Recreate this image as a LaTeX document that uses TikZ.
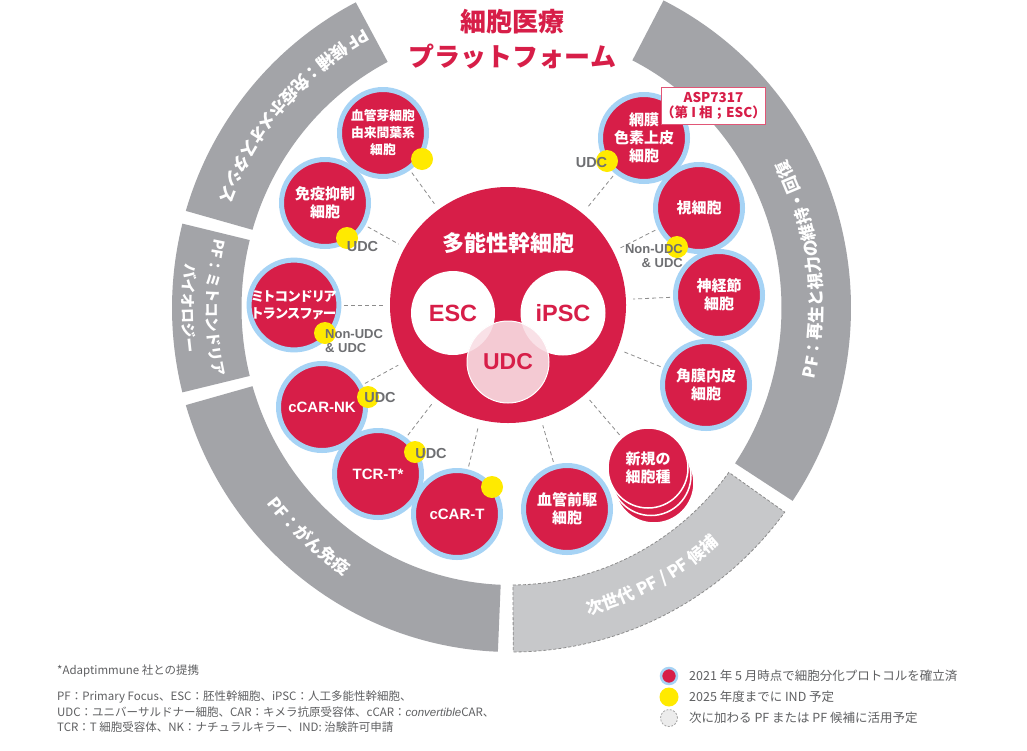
\documentclass[tikz,border=0pt]{standalone}
\usepackage{fontspec}
\setmainfont{Noto Sans CJK JP}
\newfontfamily\jpp{Noto Sans CJK JP}[RawFeature=+palt]
\newfontfamily\lat{Liberation Sans}
\usetikzlibrary{decorations.text}
\definecolor{cred}{HTML}{D71E48}
\definecolor{cblue}{HTML}{A6D3F5}
\definecolor{cyel}{HTML}{FFEA00}
\definecolor{rgray}{HTML}{A3A4A8}
\definecolor{lgray}{HTML}{C7C8CA}
\definecolor{dgray}{HTML}{6E6F72}
\definecolor{pinka}{HTML}{F4CAD3}
\definecolor{pinkb}{HTML}{F9E1E7}
\definecolor{txtgray}{HTML}{5F6062}
\definecolor{conngray}{HTML}{8C8C8C}
\newcommand\ringf{\bfseries\fontsize{17}{17}\selectfont}
\newcommand\ringg{\bfseries\fontsize{15}{15}\selectfont}
\tikzset{
  sat/.style={circle, fill=cred, draw=cblue, line width=5pt, minimum size=87pt, inner sep=0pt,
    text=white, align=center, font=\bfseries\fontsize{15}{18}\selectfont},
  latsat/.style={sat, font=\lat\bfseries\fontsize{15}{15}\selectfont},
  ydot/.style={circle, fill=cyel, minimum size=22pt, inner sep=0pt},
  conn/.style={draw=conngray, dash pattern=on 4pt off 3pt, line width=0.8pt, shorten <=3pt, shorten >=7pt},
  udclab/.style={text=dgray, font=\lat\bfseries\fontsize{14.5}{14.5}\selectfont, inner sep=0pt},
  nudclab/.style={text=dgray, font=\lat\bfseries\fontsize{13}{14}\selectfont, inner sep=0pt},
  legtext/.style={anchor=west, text=txtgray, inner sep=0pt},
  ringtext/.style={decorate, decoration={text along path, text align=center, text color=white, text={#1}}},
}
\begin{document}
\begin{tikzpicture}[x=1pt,y=1pt]
\fill[white] (0,0) rectangle (1027,-750);
\useasboundingbox (0,0) rectangle (1027,-750);

% ---------------- ring ----------------
\begin{scope}[shift={(511.5,-308)}]
  \fill[rgray] (117.3:270pt and 277pt) arc[start angle=117.3,end angle=163.6,x radius=270pt,y radius=277pt]
     -- (163.6:339.5pt and 344pt) arc[start angle=163.6,end angle=117.3,x radius=339.5pt,y radius=344pt] -- cycle;
  \fill[rgray] (165.8:270pt and 277pt) arc[start angle=165.8,end angle=194.2,x radius=270pt,y radius=277pt]
     -- (194.2:339.5pt and 344pt) arc[start angle=194.2,end angle=165.8,x radius=339.5pt,y radius=344pt] -- cycle;
  \fill[rgray] (196.4:270pt and 277pt) arc[start angle=196.4,end angle=267.7,x radius=270pt,y radius=277pt]
     -- (267.7:339.5pt and 344pt) arc[start angle=267.7,end angle=196.4,x radius=339.5pt,y radius=344pt] -- cycle;
  \path[fill=lgray, draw=conngray, line width=0.8pt, dash pattern=on 3pt off 2pt]
     (270.3:270pt and 277pt) arc[start angle=270.3,end angle=323.6,x radius=270pt,y radius=277pt]
     -- (323.6:339.5pt and 344pt) arc[start angle=323.6,end angle=270.3,x radius=339.5pt,y radius=344pt] -- cycle;
  \fill[rgray] (325.9:270pt and 277pt) arc[start angle=325.9,end angle=423.4,x radius=270pt,y radius=277pt]
     -- (423.4:339.5pt and 344pt) arc[start angle=423.4,end angle=325.9,x radius=339.5pt,y radius=344pt] -- cycle;

  \path[ringtext={|\ringf|PF 候補：免疫ホメオスタシス}]
     (99:311pt and 317pt) arc[start angle=99,end angle=179,x radius=311pt,y radius=317pt];
  \path[ringtext={|\ringg|PF：ミトコンドリア}]
     (140:305pt and 311pt) arc[start angle=140,end angle=220,x radius=305pt,y radius=311pt];
  \path[ringtext={|\ringg|バイオロジー}]
     (140:329pt and 334pt) arc[start angle=140,end angle=220,x radius=329pt,y radius=334pt];
  \path[ringtext={|\ringf|PF：がん免疫}]
     (188:311pt and 317pt) arc[start angle=188,end angle=268,x radius=311pt,y radius=317pt];
  \path[ringtext={|\ringf|次世代 PF / PF 候補}]
     (258:311pt and 317pt) arc[start angle=258,end angle=338,x radius=311pt,y radius=317pt];
  \path[ringtext={|\ringf|PF：再生と視力の維持・回復}]
     (-32:311pt and 317pt) arc[start angle=-32,end angle=47,x radius=311pt,y radius=317pt];
\end{scope}

% ---------------- core ----------------
\node[circle, fill=cred, minimum size=236pt, inner sep=0pt] (core) at (508,-305) {};

% ---------------- satellites ----------------
\node[sat, font=\bfseries\fontsize{12.8}{17}\selectfont] (s1) at (383,-133) {血管芽細胞\\由来間葉系\\細胞};
\node[sat] (s2) at (325,-203) {免疫抑制\\細胞};
\node[sat, font=\jpp\bfseries\fontsize{13.5}{17}\selectfont] (s3) at (294,-305) {ミトコンドリア\\トランスファー};
\node[latsat] (s4) at (322,-407) {cCAR-NK};
\node[latsat] (s5) at (378,-474) {TCR-T*};
\node[latsat] (s6) at (457,-514) {cCAR-T};
\node[sat] (s7) at (567,-509) {血管前駆\\細胞};
\fill[cred, draw=white, line width=1.5pt] (654,-483) circle (40pt);
\fill[cred, draw=white, line width=1.5pt] (651,-475.5) circle (40pt);
\node[circle, fill=cred, draw=white, line width=1.5pt, minimum size=80pt, inner sep=0pt, text=white, align=center,
      font=\bfseries\fontsize{15}{18}\selectfont] (s8) at (648,-468) {新規の\\細胞種};
\node[sat] (s9) at (706,-385) {角膜内皮\\細胞};
\node[sat] (s10) at (719,-295) {神経節\\細胞};
\node[sat] (s11) at (699,-208) {視細胞};
\node[sat] (s12) at (644,-138) {網膜\\色素上皮\\細胞};

% ---------------- connectors ----------------
\foreach \s in {s1,s2,s3,s4,s5,s6,s7,s8,s9,s10,s11,s12}
  \draw[conn] (\s) -- (core);

% ---------------- inner circles ----------------
\node[circle, fill=white, minimum size=84pt, inner sep=0pt] (esc) at (453,-313) {};
\node[circle, fill=white, minimum size=85pt, inner sep=0pt] (ipsc) at (563,-313) {};
\fill[pinka] (508,-362) circle (41pt);
\begin{scope}
  \clip (508,-362) circle (41pt);
  \fill[pinkb] (esc.center) circle (42pt);
  \fill[pinkb] (ipsc.center) circle (42.5pt);
\end{scope}
\node[circle, draw=white, line width=1pt, minimum size=82pt, inner sep=0pt, text=cred,
      font=\lat\bfseries\fontsize{23}{23}\selectfont] (udc) at (508,-362) {UDC};
\node[text=cred, font=\lat\bfseries\fontsize{23.5}{23.5}\selectfont, inner sep=0pt] (esct) at (esc.center) {ESC};
\node[text=cred, font=\lat\bfseries\fontsize{23.5}{23.5}\selectfont, inner sep=0pt] (ipsct) at (ipsc.center) {iPSC};
\node[text=white, font=\bfseries\fontsize{22}{22}\selectfont, inner sep=0pt] (coret) at (508,-243) {多能性幹細胞};

% ---------------- yellow dots ----------------
\node[ydot] (d1) at (422,-159) {};
\node[ydot] (d2) at (347,-238) {};
\node[ydot] (d3) at (325,-333) {};
\node[ydot] (d4) at (368,-397) {};
\node[ydot] (d5) at (415,-452) {};
\node[ydot] (d6) at (492,-487) {};
\node[ydot] (d7) at (607,-161) {};
\node[ydot] (d8) at (677,-247) {};

% ---------------- labels ----------------
\node[udclab] (l2) at (362.5,-247) {UDC};
\node[nudclab, anchor=west, align=left] (l3) at (325,-341.5) {Non-UDC\\\& UDC};
\node[udclab] (l4) at (380,-397) {UDC};
\node[udclab] (l5) at (431,-453) {UDC};
\node[udclab] (l7) at (591.5,-163) {UDC};
\node[nudclab, anchor=east, align=right] (l8) at (683,-256.5) {Non-UDC\\\& UDC};

% ---------------- title & box ----------------
\node[text=cred, font=\bfseries\fontsize{26}{35}\selectfont, align=center, inner sep=0pt] (title) at (512.5,-39.5)
   {細胞医療\\プラットフォーム};
\node[draw=cred!75, fill=white, line width=0.9pt, minimum width=93pt, minimum height=37pt, inner sep=0pt,
      align=center, text=cred, font=\bfseries\fontsize{13.5}{15}\selectfont] (asp) at (713.5,-105.5)
   {ASP7317\\（第 I 相；ESC）};

% ---------------- legend ----------------
\begin{scope}[font=\fontsize{11.5}{11.5}\selectfont]
\node[legtext] (n1) at (57,-671) {*Adaptimmune 社との提携};
\node[legtext] (n2) at (57,-697) {PF：Primary Focus、ESC：胚性幹細胞、iPSC：人工多能性幹細胞、};
\node[legtext] (n3) at (57,-712) {UDC：ユニバーサルドナー細胞、CAR：キメラ抗原受容体、cCAR：{\lat\itshape convertible}CAR、};
\node[legtext] (n4) at (57,-727) {TCR：T 細胞受容体、NK：ナチュラルキラー、IND: 治験許可申請};
\end{scope}
\node[circle, fill=cred, draw=cblue, line width=2.5pt, minimum size=16pt, inner sep=0pt] (k1) at (669,-676) {};
\node[circle, fill=cyel, minimum size=19pt, inner sep=0pt] (k2) at (669,-697) {};
\node[circle, fill=gray!15, draw=gray!70, dash pattern=on 2pt off 1.5pt, line width=0.8pt, minimum size=17pt, inner sep=0pt] (k3) at (669,-718) {};
\begin{scope}[font=\fontsize{12.5}{12.5}\selectfont]
\node[legtext] (t1) at (689,-676) {2021 年 5 月時点で細胞分化プロトコルを確立済};
\node[legtext] (t2) at (689,-697) {2025 年度までに IND 予定};
\node[legtext] (t3) at (689,-718) {次に加わる PF または PF 候補に活用予定};
\end{scope}
\end{tikzpicture}
\end{document}
